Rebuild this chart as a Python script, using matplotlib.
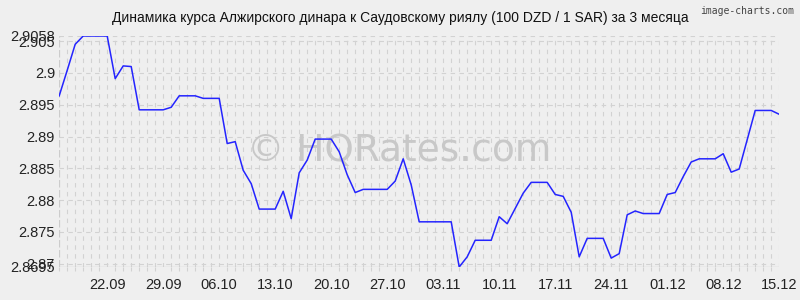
import matplotlib
matplotlib.use("Agg")
import matplotlib.pyplot as plt
import matplotlib.dates as mdates
import pandas as pd
import numpy as np

title = "Динамика курса Алжирского динара к Саудовскому риялу (100 DZD / 1 SAR) за 3 месяца"
start_date = "2025-09-16"
values = [
    2.8964, 2.9004, 2.9045, 2.9058, 2.9058, 2.9058, 2.9058, 2.8991, 2.9011, 2.9010,
    2.8942, 2.8942, 2.8942, 2.8942, 2.8946, 2.8964, 2.8964, 2.8964, 2.8960, 2.8960,
    2.8960, 2.8889, 2.8892, 2.8847, 2.8826, 2.8786, 2.8786, 2.8786, 2.8814, 2.8771,
    2.8843, 2.8863, 2.8896, 2.8896, 2.8896, 2.8876, 2.8840, 2.8812, 2.8817, 2.8817,
    2.8817, 2.8817, 2.8830, 2.8865, 2.8824, 2.8766, 2.8766, 2.8766, 2.8766, 2.8766,
    2.8695, 2.8711, 2.8737, 2.8737, 2.8737, 2.8774, 2.8763, 2.8787, 2.8811, 2.8828,
    2.8828, 2.8828, 2.8809, 2.8806, 2.8781, 2.8711, 2.8740, 2.8740, 2.8740, 2.8709,
    2.8716, 2.8777, 2.8783, 2.8779, 2.8779, 2.8779, 2.8809, 2.8812, 2.8837, 2.8860,
    2.8865, 2.8865, 2.8865, 2.8873, 2.8844, 2.8849, 2.8895, 2.8941, 2.8941, 2.8941,
    2.8935,
]
y_ticks = [2.87, 2.875, 2.88, 2.885, 2.89, 2.895, 2.9, 2.905]
y_tick_labels = ["2.87", "2.875", "2.88", "2.885", "2.89", "2.895", "2.9", "2.905"]
y_min_label = "2.8695"
y_max_label = "2.9058"
x_tick_start = "2025-09-22"
x_tick_end = "2025-12-15"
watermark = "© HQRates.com"
credit = "image-charts.com"

dates = pd.date_range(start_date, periods=len(values), freq="D")
ymin, ymax = min(values), max(values)

bg = "#efefef"
fig = plt.figure(figsize=(8, 3), dpi=100, facecolor=bg)
ax = fig.add_axes([0.074, 0.11, 0.9, 0.77])
ax.set_facecolor(bg)

ax.set_xlim(dates[0], dates[-1])
ax.set_ylim(ymin, ymax)

# grid
grid_kw = dict(color="#d2d2d2", linewidth=0.8, linestyle=(0, (4, 4)), zorder=0)
for d in dates[1:]:
    ax.axvline(d, **grid_kw)
for yt in y_ticks + [ymax]:
    ax.axhline(yt, **grid_kw)
ax.axvline(dates[0], color="#cccccc", linewidth=0.9, linestyle=(0, (6, 2)), zorder=0)
ax.axhline(ymin, color="#c6c6c6", linewidth=0.9, zorder=0)

ax.plot(dates, values, color="#2424ff", linewidth=1.1, zorder=3)

for s in ax.spines.values():
    s.set_visible(False)

ax.set_yticks(y_ticks + [ymin, ymax])
ax.set_yticklabels(y_tick_labels + [y_min_label, y_max_label])
ticks = pd.date_range(x_tick_start, x_tick_end, freq="7D")
ax.set_xticks(ticks)
ax.xaxis.set_major_formatter(mdates.DateFormatter("%d.%m"))
ax.set_xticks(dates, minor=True)
ax.tick_params(axis="x", which="minor", length=3, width=0.8, color="#d2d2d2",
               direction="out")
ax.tick_params(axis="both", which="major", length=0, labelsize=10.5, colors="#222222",
               labelfontfamily="Liberation Sans")
ax.tick_params(axis="y", pad=3)
ax.tick_params(axis="x", which="major", pad=8)

fig.text(0.5, 0.94, title, ha="center", va="center", fontsize=10,
         family="Liberation Sans", color="#111111")
fig.text(0.993, 0.965, credit, ha="right", va="center", fontsize=7,
         family="DejaVu Sans Mono", color="#444444")
ax.text(0.472, 0.50, watermark, transform=ax.transAxes, ha="center", va="center",
        fontsize=27, family="DejaVu Sans", color="#c8c8c8", zorder=1)

fig.savefig("out.png", dpi=100, facecolor=bg)
